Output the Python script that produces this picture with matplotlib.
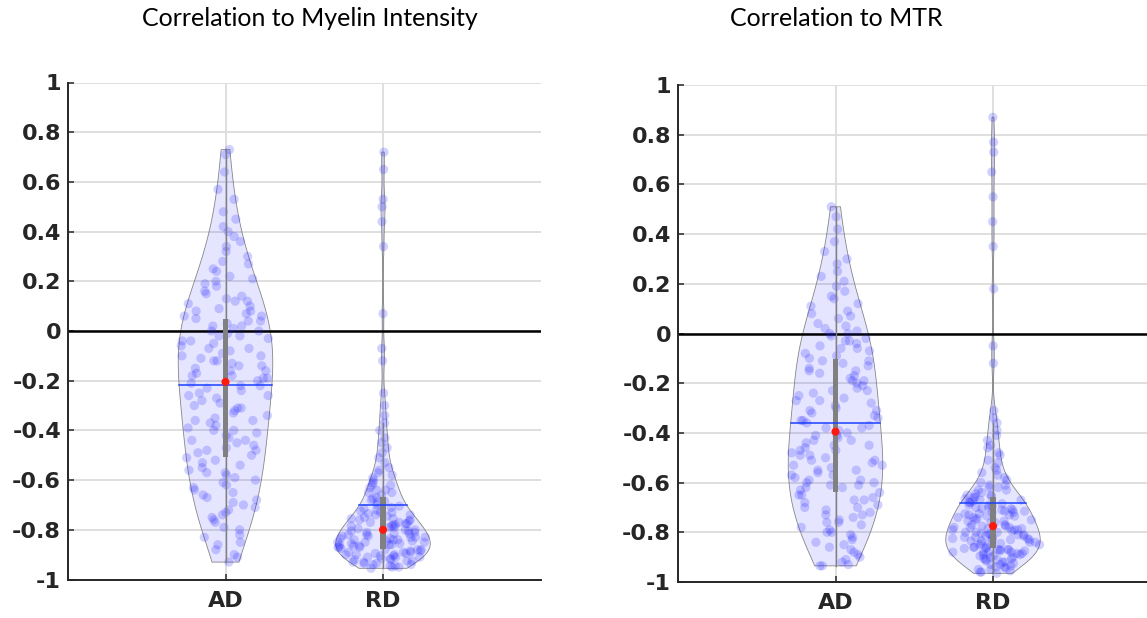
import numpy as np
import matplotlib
matplotlib.use("Agg")
import matplotlib.pyplot as plt
from matplotlib.patches import Rectangle

# ---------------- data ----------------
categories = ["AD", "RD"]
titles = ["Correlation to Myelin Intensity", "Correlation to MTR"]
yticks = [-1, -0.8, -0.6, -0.4, -0.2, 0, 0.2, 0.4, 0.6, 0.8, 1]
ytick_labels = ["-1", "-0.8", "-0.6", "-0.4", "-0.2", "0", "0.2", "0.4", "0.6", "0.8", "1"]

myelin_ad = [0.73, 0.71, 0.64, 0.57, 0.53, 0.48, 0.45, 0.42, 0.40, 0.38, 0.36, 0.34, 0.32,
             0.30, 0.28, 0.27, 0.25, 0.24, 0.22, 0.21, 0.20, 0.19, 0.18, 0.16, 0.15, 0.14,
             0.13, 0.12, 0.12, 0.11, 0.10, 0.09, 0.08, 0.08, 0.07, 0.06, 0.06,
             0.05, 0.04, 0.04, 0.03, 0.02, 0.02, 0.01, 0.00, 0.00, -0.01, -0.02, -0.02, -0.03,
             -0.04, -0.04, -0.05, -0.06, -0.07, -0.07, -0.08, -0.09, -0.10, -0.10, -0.11, -0.12,
             -0.12, -0.13, -0.14, -0.14, -0.15, -0.16, -0.16, -0.17, -0.18, -0.18, -0.19, -0.19, -0.20,
             -0.21, -0.22, -0.22, -0.23, -0.24, -0.25, -0.26, -0.26, -0.27, -0.28, -0.29, -0.30,
             -0.31, -0.31, -0.32, -0.33, -0.34, -0.35, -0.36, -0.36, -0.37, -0.38, -0.39, -0.40,
             -0.40, -0.41, -0.42, -0.43, -0.44, -0.44, -0.45, -0.46, -0.47, -0.48, -0.48, -0.49, -0.50,
             -0.51, -0.52, -0.53, -0.54, -0.55, -0.56, -0.57, -0.57, -0.58, -0.59, -0.60, -0.61,
             -0.62, -0.63, -0.64, -0.65, -0.66, -0.67, -0.68, -0.69, -0.70, -0.71, -0.72, -0.73,
             -0.74, -0.75, -0.76, -0.77, -0.79, -0.80, -0.82, -0.83, -0.85, -0.86, -0.88, -0.90,
             -0.91, -0.93]

myelin_rd = [0.72, 0.65, 0.53, 0.50, 0.44, 0.34, 0.07, -0.07, -0.12, -0.25,
             -0.30, -0.34, -0.37, -0.40, -0.43, -0.45, -0.47, -0.49, -0.51, -0.53, -0.55, -0.56,
             -0.57, -0.58, -0.59, -0.60, -0.61, -0.62, -0.62, -0.63, -0.64, -0.64, -0.65, -0.65, -0.66,
             -0.67, -0.675, -0.68, -0.685, -0.69, -0.70, -0.705, -0.71, -0.715, -0.72, -0.725, -0.73,
             -0.73, -0.735, -0.74, -0.74, -0.745, -0.75, -0.755, -0.755, -0.76, -0.76, -0.765, -0.77,
             -0.77, -0.775, -0.775, -0.78, -0.78, -0.785, -0.785, -0.79, -0.79, -0.795, -0.80,
             -0.80, -0.805, -0.805, -0.81, -0.81, -0.815, -0.815, -0.82, -0.82, -0.825, -0.825, -0.83,
             -0.83, -0.83, -0.835, -0.835, -0.84, -0.84, -0.84, -0.845, -0.845, -0.85, -0.85, -0.85,
             -0.855, -0.855, -0.86, -0.86, -0.86, -0.865, -0.865, -0.87, -0.87, -0.87, -0.875,
             -0.88, -0.88, -0.88, -0.885, -0.885, -0.89, -0.89, -0.89, -0.895, -0.895, -0.90, -0.90,
             -0.90, -0.905, -0.905, -0.91, -0.91, -0.91, -0.915, -0.915, -0.92, -0.92, -0.925, -0.925,
             -0.93, -0.93, -0.935, -0.935, -0.94, -0.94, -0.945, -0.945, -0.95, -0.95, -0.955]

mtr_ad = [0.51, 0.47, 0.42, 0.37, 0.33, 0.30, 0.28, 0.25, 0.23, 0.21, 0.19, 0.17, 0.15, 0.14,
          0.12, 0.11, 0.09, 0.08, 0.07, 0.06, 0.04, 0.03, 0.02, 0.01, 0.00, 0.00, -0.01, -0.02,
          -0.03, -0.03, -0.04, -0.05, -0.06, -0.06, -0.07, -0.08, -0.09,
          -0.10, -0.11, -0.11, -0.12, -0.13, -0.14, -0.15, -0.15, -0.16, -0.17, -0.18, -0.19, -0.19,
          -0.20, -0.21, -0.22, -0.23, -0.23, -0.24, -0.25, -0.26, -0.27, -0.27, -0.28, -0.29, -0.30,
          -0.31, -0.31, -0.32, -0.33, -0.34, -0.35, -0.35, -0.36, -0.37, -0.38, -0.38, -0.39,
          -0.40, -0.41, -0.41, -0.42, -0.43, -0.43, -0.44, -0.45, -0.45, -0.46, -0.47, -0.47, -0.48,
          -0.49, -0.49, -0.50, -0.51, -0.51, -0.52, -0.53, -0.53, -0.54, -0.55, -0.55, -0.56, -0.57,
          -0.57, -0.58, -0.59, -0.59, -0.60, -0.60, -0.61, -0.61, -0.62, -0.62, -0.63,
          -0.64, -0.65, -0.65, -0.66, -0.67, -0.67, -0.68, -0.69, -0.70, -0.70, -0.71, -0.72, -0.73,
          -0.73, -0.74, -0.75, -0.76, -0.76, -0.77, -0.78, -0.79, -0.80, -0.80, -0.81, -0.82, -0.83,
          -0.84, -0.85, -0.86, -0.87, -0.88, -0.89, -0.90, -0.91, -0.92, -0.93, -0.935, -0.935]

mtr_rd = [0.87, 0.77, 0.73, 0.65, 0.55, 0.45, 0.35, 0.18, -0.05, -0.12,
          -0.31, -0.34, -0.36, -0.39, -0.41, -0.43, -0.45, -0.46, -0.48, -0.49, -0.51, -0.52, -0.54,
          -0.55, -0.56, -0.57, -0.58, -0.59, -0.60, -0.61, -0.61, -0.62, -0.62, -0.63, -0.63, -0.64,
          -0.645, -0.65, -0.65, -0.655, -0.66, -0.66, -0.665, -0.67, -0.67, -0.675, -0.68, -0.68,
          -0.685, -0.69, -0.69, -0.695, -0.70, -0.70, -0.705, -0.705, -0.71, -0.71, -0.715, -0.715,
          -0.72, -0.72, -0.725, -0.725, -0.73, -0.73, -0.735, -0.735, -0.74, -0.74, -0.745, -0.75,
          -0.75, -0.755, -0.755, -0.76, -0.76,
          -0.77, -0.77, -0.775, -0.775, -0.78, -0.78, -0.78, -0.785, -0.785, -0.79, -0.79, -0.79,
          -0.795, -0.80, -0.80, -0.80, -0.805, -0.805, -0.81, -0.81, -0.81, -0.815, -0.815, -0.82,
          -0.82, -0.82, -0.825, -0.825, -0.83, -0.83, -0.83, -0.835, -0.835, -0.84, -0.84, -0.845,
          -0.845, -0.85, -0.85, -0.85,
          -0.86, -0.86, -0.86, -0.865, -0.865, -0.87, -0.87, -0.87, -0.87, -0.875, -0.875, -0.88,
          -0.88, -0.88, -0.88, -0.885, -0.885, -0.89, -0.89, -0.895, -0.895, -0.90, -0.90, -0.905,
          -0.905, -0.91, -0.91, -0.915, -0.92, -0.92, -0.925, -0.93, -0.93, -0.935, -0.94, -0.94,
          -0.945, -0.95, -0.95, -0.955, -0.96, -0.96, -0.965]

panels = [(myelin_ad, myelin_rd), (mtr_ad, mtr_rd)]

# ---------------- style ----------------
W, H = 1147, 618
DARK = "#262626"
GRID = "#dcdcdc"
GRAY = (0.5, 0.5, 0.5)
VIOLIN_HALF = 0.3
jitter_rng = np.random.default_rng(7)  # only for horizontal point jitter inside violins


def ks_bandwidth(x):
    n = len(x)
    sig = np.median(np.abs(x - np.median(x))) / 0.6745
    return sig * (4.0 / (3.0 * n)) ** 0.2


def draw_violin(ax, pos, values):
    data = np.sort(np.asarray(values, dtype=float))
    n = len(data)
    bw = ks_bandwidth(data)
    grid = np.linspace(data.min(), data.max(), 500)
    dens = np.exp(-0.5 * ((grid[:, None] - data[None, :]) / bw) ** 2).sum(1)
    dens /= n * bw * np.sqrt(2 * np.pi)
    hw = dens * VIOLIN_HALF / dens.max()

    xs = np.concatenate([pos - hw, (pos + hw)[::-1]])
    ys = np.concatenate([grid, grid[::-1]])
    ax.fill(xs, ys, facecolor=(0, 0, 1, 0.1), edgecolor=(0.45, 0.45, 0.45, 0.85),
            lw=0.6, zorder=2)

    strength = np.interp(data, grid, hw)
    jit = jitter_rng.uniform(-1, 1, n)
    ax.scatter(pos + jit * strength, data, s=44, color=(0.1, 0.1, 1.0), alpha=0.2,
               edgecolors="none", zorder=3)

    q1, med, q3 = np.percentile(data, [25, 50, 75])
    mean = data.mean()
    iqr = q3 - q1
    lo = data[data >= q1 - 1.5 * iqr].min()
    hi = data[data <= q3 + 1.5 * iqr].max()
    ax.plot([pos, pos], [lo, hi], color=GRAY, lw=1.0, zorder=4)
    ax.add_patch(Rectangle((pos - 0.016, q1), 0.032, iqr, facecolor=GRAY,
                           edgecolor="none", zorder=5))
    mw = np.interp(mean, grid, hw)
    ax.plot([pos - mw, pos + mw], [mean, mean], color=(0.1, 0.25, 1.0), lw=1.1, zorder=6)
    ax.scatter([pos], [med], s=34, color=(1.0, 0.1, 0.05), edgecolors="none", zorder=7)


fig = plt.figure(figsize=(W / 100, H / 100), dpi=100)

axes_px = [(68, 82.5, 472.5, 497), (678, 85, 472.5, 497)]
title_px = [(310, 18), (836, 18)]

for (left, top, wpx, hpx), (ad, rd), title, (tx, ty) in zip(axes_px, panels, titles, title_px):
    ax = fig.add_axes([left / W, 1 - (top + hpx) / H, wpx / W, hpx / H])
    ax.set_xlim(0, 3)
    ax.set_ylim(-1, 1)
    ax.set_xticks([1, 2])
    ax.set_xticklabels(categories)
    ax.set_yticks(yticks)
    ax.set_yticklabels(ytick_labels)
    ax.grid(True, color=GRID, lw=1.3)
    ax.set_axisbelow(True)
    for s in ["top", "right"]:
        ax.spines[s].set_visible(False)
    for s in ["left", "bottom"]:
        ax.spines[s].set_color(DARK)
        ax.spines[s].set_linewidth(1.4)
        ax.spines[s].set_zorder(8)
    ax.tick_params(direction="in", length=4, width=1.1, color=DARK, labelcolor=DARK)
    ax.tick_params(axis="y", pad=5)
    ax.tick_params(axis="x", pad=8)
    for lab in ax.get_xticklabels() + ax.get_yticklabels():
        lab.set_fontsize(16)
        lab.set_fontweight("bold")
        lab.set_family("DejaVu Sans")
    ax.axhline(0, color="black", lw=1.8, zorder=2.5)

    draw_violin(ax, 1, ad)
    draw_violin(ax, 2, rd)

    fig.text(tx / W, 1 - ty / H, title, ha="center", va="center", fontsize=18,
             family="Lato", color="black")

fig.savefig("out.png", dpi=100)
